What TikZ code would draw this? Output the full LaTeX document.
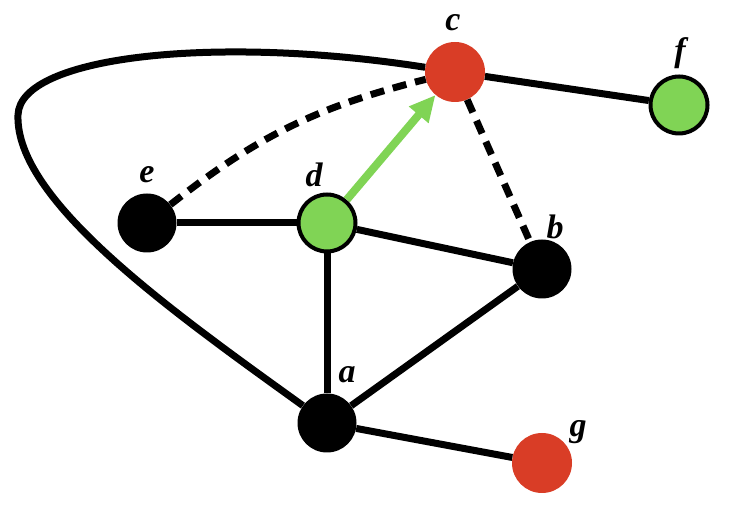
\documentclass[tikz,border=0pt]{standalone}
\usepackage{fontspec}
\setmainfont{Liberation Serif}
\usetikzlibrary{arrows.meta}
\definecolor{vertred}{HTML}{D93D26}
\definecolor{vertgreen}{HTML}{80D455}
\begin{document}
\begin{tikzpicture}
[x=1pt,y=1pt,
  blackdecorate/.style={shape=circle,inner sep=0pt,minimum size=59pt,fill=black},%
  reddecorate/.style={shape=circle,inner sep=0pt,minimum size=60pt,fill=vertred},%
  greendecorate/.style={shape=circle,inner sep=0pt,minimum size=57pt,fill=vertgreen,draw=black,line width=4pt},%
  labeldecorate/.style={inner sep=0pt,font=\fontsize{34}{38}\selectfont\bfseries\itshape},%
  linedecorate/.style={-,line width=7pt},%
  dashdecorate/.style={-,line width=7pt,dash pattern=on 14pt off 9pt},%
  arrowdecorate/.style={-{Triangle[length=26pt,width=24pt]},line width=8pt,vertgreen}]
\useasboundingbox (0,0) rectangle (730,510);
%% nodes or vertices
\foreach \nodename/\x/\y/\kind in {c/455/438/red, f/679/405/green, e/147/287/black,
  d/327/287/green, b/542/241/black, a/327/87/black, g/542/47/red}
{
  \node (\nodename) at (\x,\y) [\kind decorate] {};
}
%% labels
\foreach \nodename/\x/\y in {c/453/487, f/680/457, e/147/335, d/314/335,
  b/555/283, a/347/135, g/578/78}
{
  \node (lab\nodename) at (\x,\y) [labeldecorate] {\nodename};
}
\coordinate (loopleft) at (18,395);
%% edges or lines
\path
\foreach \startnode/\endnode in {e/d, d/b, d/a, a/b, a/g, c/f} {
  (\startnode) edge[linedecorate] (\endnode)
};
\draw[linedecorate] (a) .. controls (170,200) and (15,310) .. (loopleft)
  .. controls (20,455) and (220,475) .. (c);
\draw[dashdecorate] (e) to[bend left=12] (c);
\draw[dashdecorate] (c) -- (b);
\draw[arrowdecorate] (d) -- (c);
\end{tikzpicture}
\end{document}
